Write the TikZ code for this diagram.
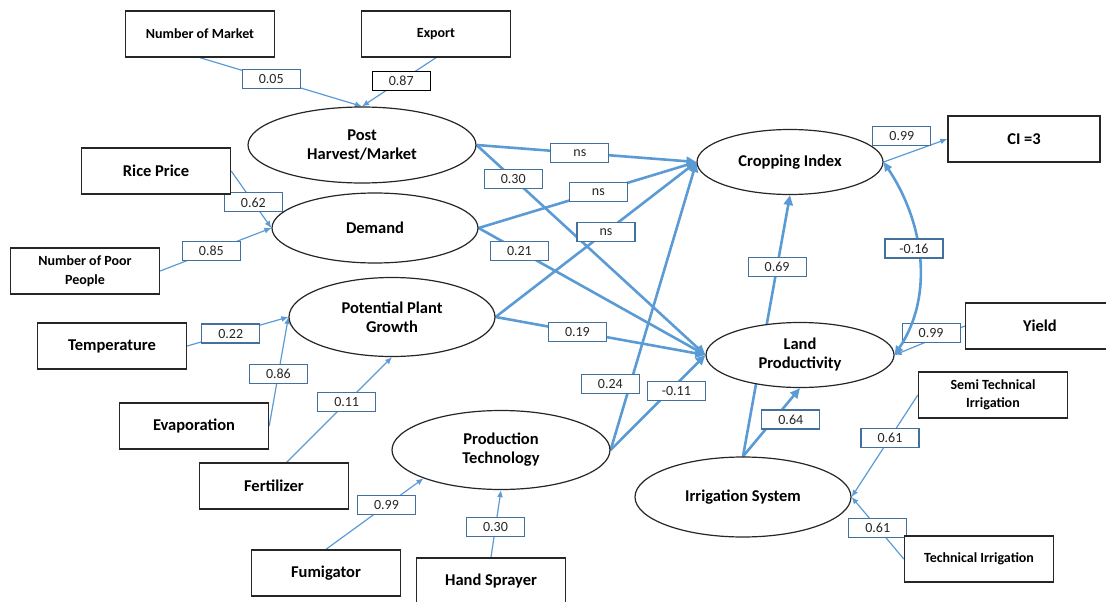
\documentclass[tikz,border=0pt]{standalone}
\usepackage{fontspec}
\setmainfont{Carlito}
\usetikzlibrary{arrows.meta,shapes.geometric}
\pgfdeclarelayer{bg}
\pgfsetlayers{bg,main}
\definecolor{pathblue}{HTML}{5B9BD5}
\definecolor{lblblue}{HTML}{41719C}

\begin{document}
\begin{tikzpicture}[x=1pt,y=-1pt,
  obs/.style={draw=black!85,line width=1.4pt,fill=white,minimum width=149pt,minimum height=46pt,inner sep=0pt,align=center,font=\fontsize{16.5}{19}\selectfont\bfseries},
  obssmall/.style={obs,font=\fontsize{14}{18.5}\selectfont\bfseries},
  lat/.style={ellipse,draw=black!85,line width=1.2pt,fill=white,inner sep=0pt,align=center,font=\fontsize{16.5}{19}\selectfont\bfseries},
  wt/.style={draw=lblblue,line width=1.1pt,fill=white,text=black!85,minimum width=58pt,minimum height=19pt,inner sep=0pt,font=\fontsize{14}{14}\selectfont},
  loading/.style={pathblue,line width=1.2pt,-{Latex[length=7pt,width=6pt]}},
  struct/.style={pathblue,line width=2.6pt,-{Triangle[length=10pt,width=9pt]}}
]
\useasboundingbox (0,0) rectangle (1106,602);

% observed variables
\node[obssmall] (nm) at (200,34) {Number of Market};
\node[obssmall] (ex) at (436,34) {Export};
\node[obs] (rp) at (156,171) {Rice Price};
\node[obssmall] (npp) at (85,271) {Number of Poor\\People};
\node[obs] (temp) at (112,346) {Temperature};
\node[obs] (evap) at (194,426) {Evaporation};
\node[obs] (fert) at (274,486) {Fertilizer};
\node[obs] (fum) at (326,573) {Fumigator};
\node[obs] (hs) at (491,581) {Hand Sprayer};
\node[obs,minimum width=152pt] (ci3) at (1024,139) {CI =3};
\node[obs] (yld) at (1040,326) {Yield};
\node[obssmall] (sti) at (993,395) {Semi Technical\\Irrigation};
\node[obssmall] (ti) at (979,559) {Technical Irrigation};

% latent variables
\node[lat,minimum width=228pt,minimum height=76pt] (ph) at (362,145) {Post\\Harvest/Market};
\node[lat,minimum width=206pt,minimum height=70pt] (dem) at (375,228) {Demand};
\node[lat,minimum width=206pt,minimum height=79pt] (ppg) at (392,317) {Potential Plant\\Growth};
\node[lat,minimum width=218pt,minimum height=79pt] (pt) at (501,450) {Production\\Technology};
\node[lat,minimum width=186pt,minimum height=65pt] (ci) at (790,162) {Cropping Index};
\node[lat,minimum width=188pt,minimum height=65pt] (lp) at (800,355) {Land\\Productivity};
\node[lat,minimum width=216pt,minimum height=80pt] (irr) at (743,497) {Irrigation System};

\begin{pgfonlayer}{bg}
% measurement
\draw[loading] (nm.south) -- node[wt,pos=0.44] (w05) {0.05} (ph.north);
\draw[loading] (ex.south) -- node[wt,pos=0.47,draw=black] (w87) {0.87} (ph.north);
\draw[loading] (rp.east) -- node[wt,pos=0.55] (w62) {0.62} (dem.west);
\draw[loading] (npp.east) -- node[wt,pos=0.46] (w85) {0.85} (dem.west);
\draw[loading] (temp.east) -- node[wt,pos=0.43] (w22) {0.22} (ppg.west);
\draw[loading] (evap.east) -- node[wt,pos=0.48] (w86) {0.86} (ppg.west);
\draw[loading] (fert.62) -- node[wt,pos=0.57] (w11) {0.11} (ppg.south);
\draw[loading] (fum.north) -- node[wt,pos=0.62] (w99a) {0.99} (pt.south west);
\draw[loading] (hs.north) -- node[wt,pos=0.45] (w30a) {0.30} (pt.south);
\draw[loading] (ci.east) -- node[wt,pos=0.35,xshift=-4pt,yshift=18pt] (w99b) {0.99} (ci3.west);
\draw[loading] (yld.west) -- node[wt,pos=0.48,yshift=7pt] (w99c) {0.99} (lp.east);
\draw[loading] (sti.west) -- node[wt,pos=0.42] (w61a) {0.61} (irr.east);
\draw[loading] (ti.west) -- node[wt,pos=0.5] (w61b) {0.61} (irr.east);
% structural
\draw[struct] (ph.east) -- node[wt,pos=0.47] (wns1) {ns} (ci.west);
\draw[struct] (ph.east) -- node[wt,pos=0.16] (w30b) {0.30} (lp.west);
\draw[struct] (dem.east) -- node[wt,pos=0.55] (wns2) {ns} (ci.west);
\draw[struct] (dem.east) -- node[wt,pos=0.18] (w21) {0.21} (lp.west);
\draw[struct] (ppg.east) -- node[wt,pos=0.55] (wns3) {ns} (ci.west);
\draw[struct] (ppg.east) -- node[wt,pos=0.39] (w19) {0.19} (lp.west);
\draw[struct] (pt.east) -- node[wt,pos=0.23,xshift=-20pt] (w24) {0.24} (ci.west);
\draw[struct] (pt.east) -- node[wt,pos=0.62,xshift=7pt] (w11n) {-0.11} (lp.west);
\draw[struct] (irr.north) -- node[wt,pos=0.725] (w69) {0.69} (ci.south);
\draw[struct] (irr.north) -- node[wt,pos=0.54,xshift=17pt] (w64) {0.64} (lp.south);
\draw[struct,{Triangle[length=9pt,width=8pt]}-{Triangle[length=9pt,width=8pt]}] (ci.east) .. controls +(40,60) and +(40,-60) .. (lp.east);
\path (ci.east) .. controls +(40,60) and +(40,-60) .. node[wt,pos=0.45,xshift=-4pt] (w16) {-0.16} (lp.east);
\end{pgfonlayer}
\end{tikzpicture}
\end{document}
